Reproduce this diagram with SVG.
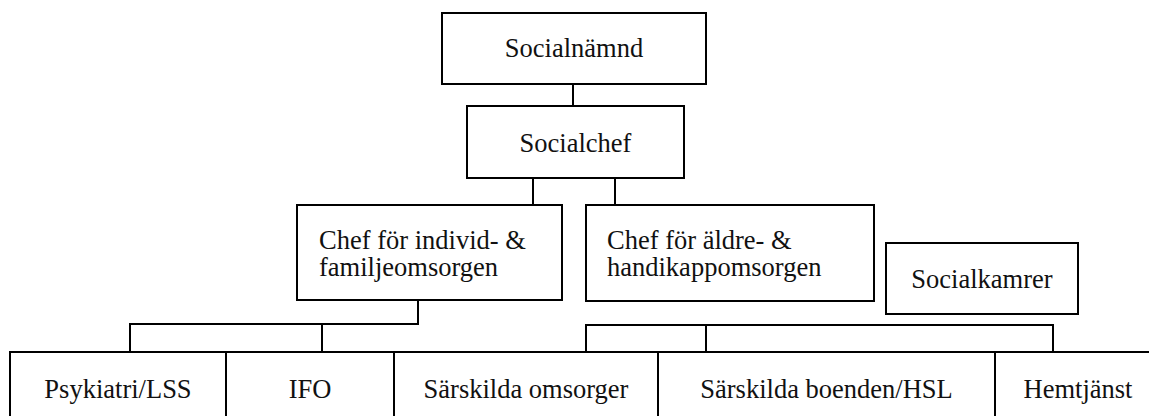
<svg xmlns="http://www.w3.org/2000/svg" width="1149" height="416" viewBox="0 0 1149 416">
<style>
.box{fill:#fff;stroke:#000;stroke-width:2}
.ln{fill:none;stroke:#000;stroke-width:2}
.c{text-anchor:middle}
</style>
<rect width="1149" height="416" fill="#fff"/>
<g id="connectors" class="ln">
<path d="M573,84V106"/>
<path d="M533,178V205M615,178V205"/>
<path d="M418,300V324H130V352M322,324V352"/>
<path d="M586,352V325H1053V352M706,325V352"/>
</g>
<g font-family="Liberation Serif, serif" font-size="26.5" fill="#111">
<g id="socialnamnd"><rect class="box" x="442" y="13" width="264" height="71"/><text class="c" x="574" y="57">Socialnämnd</text></g>
<g id="socialchef"><rect class="box" x="467" y="106" width="217" height="72"/><text class="c" x="575.5" y="152">Socialchef</text></g>
<g id="chef-ifo"><rect class="box" x="297" y="205" width="265" height="95"/><text x="319" y="249">Chef för individ- &amp;</text><text x="319" y="276">familjeomsorgen</text></g>
<g id="chef-aldre"><rect class="box" x="586" y="205" width="288" height="96"/><text x="607" y="249">Chef för äldre- &amp;</text><text x="607" y="276">handikappomsorgen</text></g>
<g id="socialkamrer"><rect class="box" x="886" y="243" width="192" height="71"/><text class="c" x="982" y="288">Socialkamrer</text></g>
<g id="bottom-row" class="ln"><path d="M10,420V352H1151M226,352V420M394,352V420M658,352V420M995,352V420"/></g>
<g id="psykiatri"><text class="c" x="118" y="398">Psykiatri/LSS</text></g>
<g id="ifo"><text class="c" x="310" y="398">IFO</text></g>
<g id="sarskilda-omsorger"><text class="c" x="526" y="398">Särskilda omsorger</text></g>
<g id="sarskilda-boenden"><text class="c" x="826.5" y="398">Särskilda boenden/HSL</text></g>
<g id="hemtjanst"><text class="c" x="1078" y="398">Hemtjänst</text></g>
</g>
</svg>
